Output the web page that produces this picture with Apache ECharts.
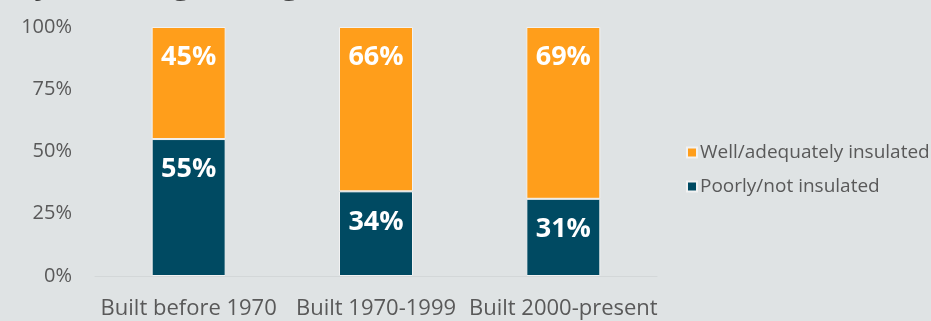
<!DOCTYPE html>
<html>
<head>
<meta charset="utf-8">
<script src="https://cdn.jsdelivr.net/npm/echarts@6/dist/echarts.min.js"></script>
<style>
  html, body { margin: 0; padding: 0; background: #dfe3e4; }
  #chart { width: 931px; height: 321px; }
</style>
</head>
<body>
<div id="chart"></div>
<script>
// Share of homes by insulation status, per construction period
const categories = ['Built before 1970', 'Built 1970-1999', 'Built 2000-present'];
const poorlyInsulated = [55, 34, 31];
const wellInsulated = [45, 66, 69];
const yTicks = [0, 25, 50, 75, 100];

const FONT = '"Open Sans", "Noto Sans", sans-serif';
const chart = echarts.init(document.getElementById('chart'));

const labelStyle = {
  show: true,
  position: 'insideTop',
  distance: 17,
  color: '#ffffff',
  fontFamily: FONT,
  fontWeight: 'bold',
  fontSize: 27,
  formatter: p => p.value + '%'
};

chart.setOption({
  backgroundColor: '#dfe3e4',
  animation: false,
  graphic: [{
    type: 'text',
    x: 14,
    y: 0,
    style: {
      text: 'by building vintage',
      font: 'bold 32px ' + FONT,
      fill: '#404040',
      verticalAlign: 'bottom'
    }
  }],
  legend: {
    orient: 'vertical',
    left: 681,
    top: 138,
    itemWidth: 10,
    itemHeight: 10,
    itemGap: 15,
    icon: 'rect',
    data: ['Well/adequately insulated', 'Poorly/not insulated'],
    textStyle: { color: '#595959', fontSize: 19, fontFamily: FONT, padding: [0, 0, 0, -2] }
  },
  grid: { left: 95, right: 931 - 657, top: 27, bottom: 321 - 276, containLabel: false },
  xAxis: {
    type: 'category',
    data: categories,
    axisTick: { show: false },
    axisLine: { show: true, lineStyle: { color: '#d3d7d8', width: 1 } },
    axisLabel: { color: '#595959', fontSize: 22, fontFamily: FONT, margin: 22, interval: 0 }
  },
  yAxis: {
    type: 'value',
    min: yTicks[0],
    max: yTicks[yTicks.length - 1],
    interval: 25,
    splitLine: { show: false },
    axisLine: { show: false },
    axisTick: { show: false },
    axisLabel: { color: '#595959', fontSize: 20, fontFamily: FONT, margin: 23, formatter: v => v + '%' }
  },
  series: [
    {
      name: 'Poorly/not insulated',
      type: 'bar',
      stack: 'total',
      barWidth: 74,
      data: poorlyInsulated,
      itemStyle: { color: '#004a62', borderColor: '#f2f2f2', borderWidth: 1 },
      label: labelStyle
    },
    {
      name: 'Well/adequately insulated',
      type: 'bar',
      stack: 'total',
      barWidth: 74,
      data: wellInsulated,
      itemStyle: { color: '#ff9e1b', borderColor: '#f2f2f2', borderWidth: 1 },
      label: labelStyle
    }
  ]
});
</script>
</body>
</html>
